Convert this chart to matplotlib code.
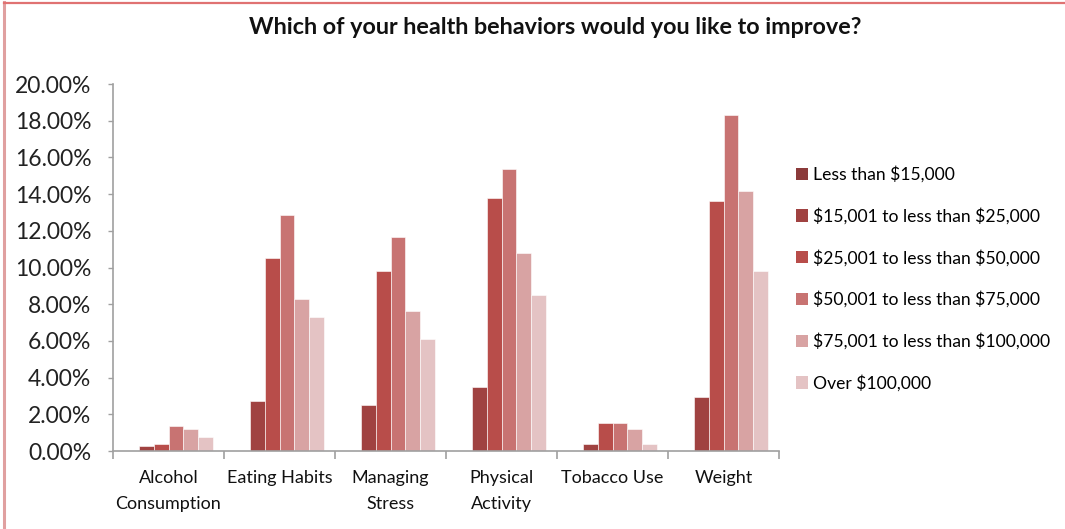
import matplotlib
matplotlib.use("Agg")
import matplotlib.pyplot as plt
import numpy as np
from matplotlib.patches import Patch
from matplotlib.lines import Line2D

plt.rcParams['font.family'] = ['Lato', 'DejaVu Sans']
plt.rcParams['text.parse_math'] = False

categories = ['Alcohol\nConsumption', 'Eating Habits', 'Managing\nStress',
              'Physical\nActivity', 'Tobacco Use', 'Weight']
series_names = ['Less than $15,000', '$15,001 to less than $25,000',
                '$25,001 to less than $50,000', '$50,001 to less than $75,000',
                '$75,001 to less than $100,000', 'Over $100,000']
# values in percent, one list per income group
less_15k = [0.0, 0.0, 0.0, 0.0, 0.0, 0.0]
from_15k = [0.25, 2.75, 2.5, 3.5, 0.38, 2.95]
from_25k = [0.38, 10.5, 9.8, 13.8, 1.54, 13.6]
from_50k = [1.35, 12.85, 11.65, 15.35, 1.54, 18.3]
from_75k = [1.2, 8.3, 7.65, 10.8, 1.2, 14.17]
over_100k = [0.79, 7.3, 6.1, 8.5, 0.38, 9.8]
values = [less_15k, from_15k, from_25k, from_50k, from_75k, over_100k]
colors = ['#8B3A3A', '#A04241', '#B84D4A', '#C87372', '#D8A3A3', '#E4C3C4']

fig = plt.figure(figsize=(10.65, 5.29), dpi=100)
ax = fig.add_axes([113 / 1065, 78 / 529, 666 / 1065, 367 / 529])

x = np.arange(len(categories))
w = 1 / 7.5
for i, vals in enumerate(values):
    ax.bar(x + (i - 2.5) * w, vals, width=w, color=colors[i],
           edgecolor='white', linewidth=0.4)

ax.set_xlim(-0.5, len(categories) - 0.5)
ax.set_ylim(0, 20)
ax.set_yticks(np.arange(0, 21, 2))
ax.set_yticklabels(['%.2f%%' % v for v in np.arange(0, 21, 2)],
                   fontsize=16.5, color='#222222')
ax.set_xticks(x)
ax.set_xticklabels(categories, fontsize=13, color='#111111', linespacing=1.72)
ax.set_xticks(np.arange(-0.5, len(categories)), minor=True)
ax.tick_params(axis='x', which='major', length=0, pad=14)
ax.tick_params(axis='x', which='minor', length=6, color='#A0A0A0', width=1.2)
ax.tick_params(axis='y', length=3.5, color='#A0A0A0', width=1.0, pad=12)

for side in ['top', 'right']:
    ax.spines[side].set_visible(False)
for side in ['left', 'bottom']:
    ax.spines[side].set_color('#A0A0A0')
    ax.spines[side].set_linewidth(1.2)

fig.text(555 / 1065, 1 - 28 / 529,
         'Which of your health behaviors would you like to improve?',
         ha='center', va='center', fontsize=16.8, fontweight='bold', color='#111111')

handles = [Patch(facecolor=c, edgecolor='none') for c in colors]
fig.legend(handles, series_names, loc='upper left',
           bbox_to_anchor=(789 / 1065, 1 - 159 / 529), frameon=False,
           fontsize=12.6, handlelength=0.7, handleheight=0.7,
           handletextpad=0.25, labelspacing=1.42, borderaxespad=0)

# chart area border
fig.add_artist(Line2D([3.5 / 1065, 3.5 / 1065], [0, 1 - 2 / 529],
                      color='#E0A0A0', linewidth=2.2))
fig.add_artist(Line2D([3.5 / 1065, 1], [1 - 2.5 / 529, 1 - 2.5 / 529],
                      color='#E07272', linewidth=1.6))

fig.savefig('out.png', dpi=100, facecolor='white')
